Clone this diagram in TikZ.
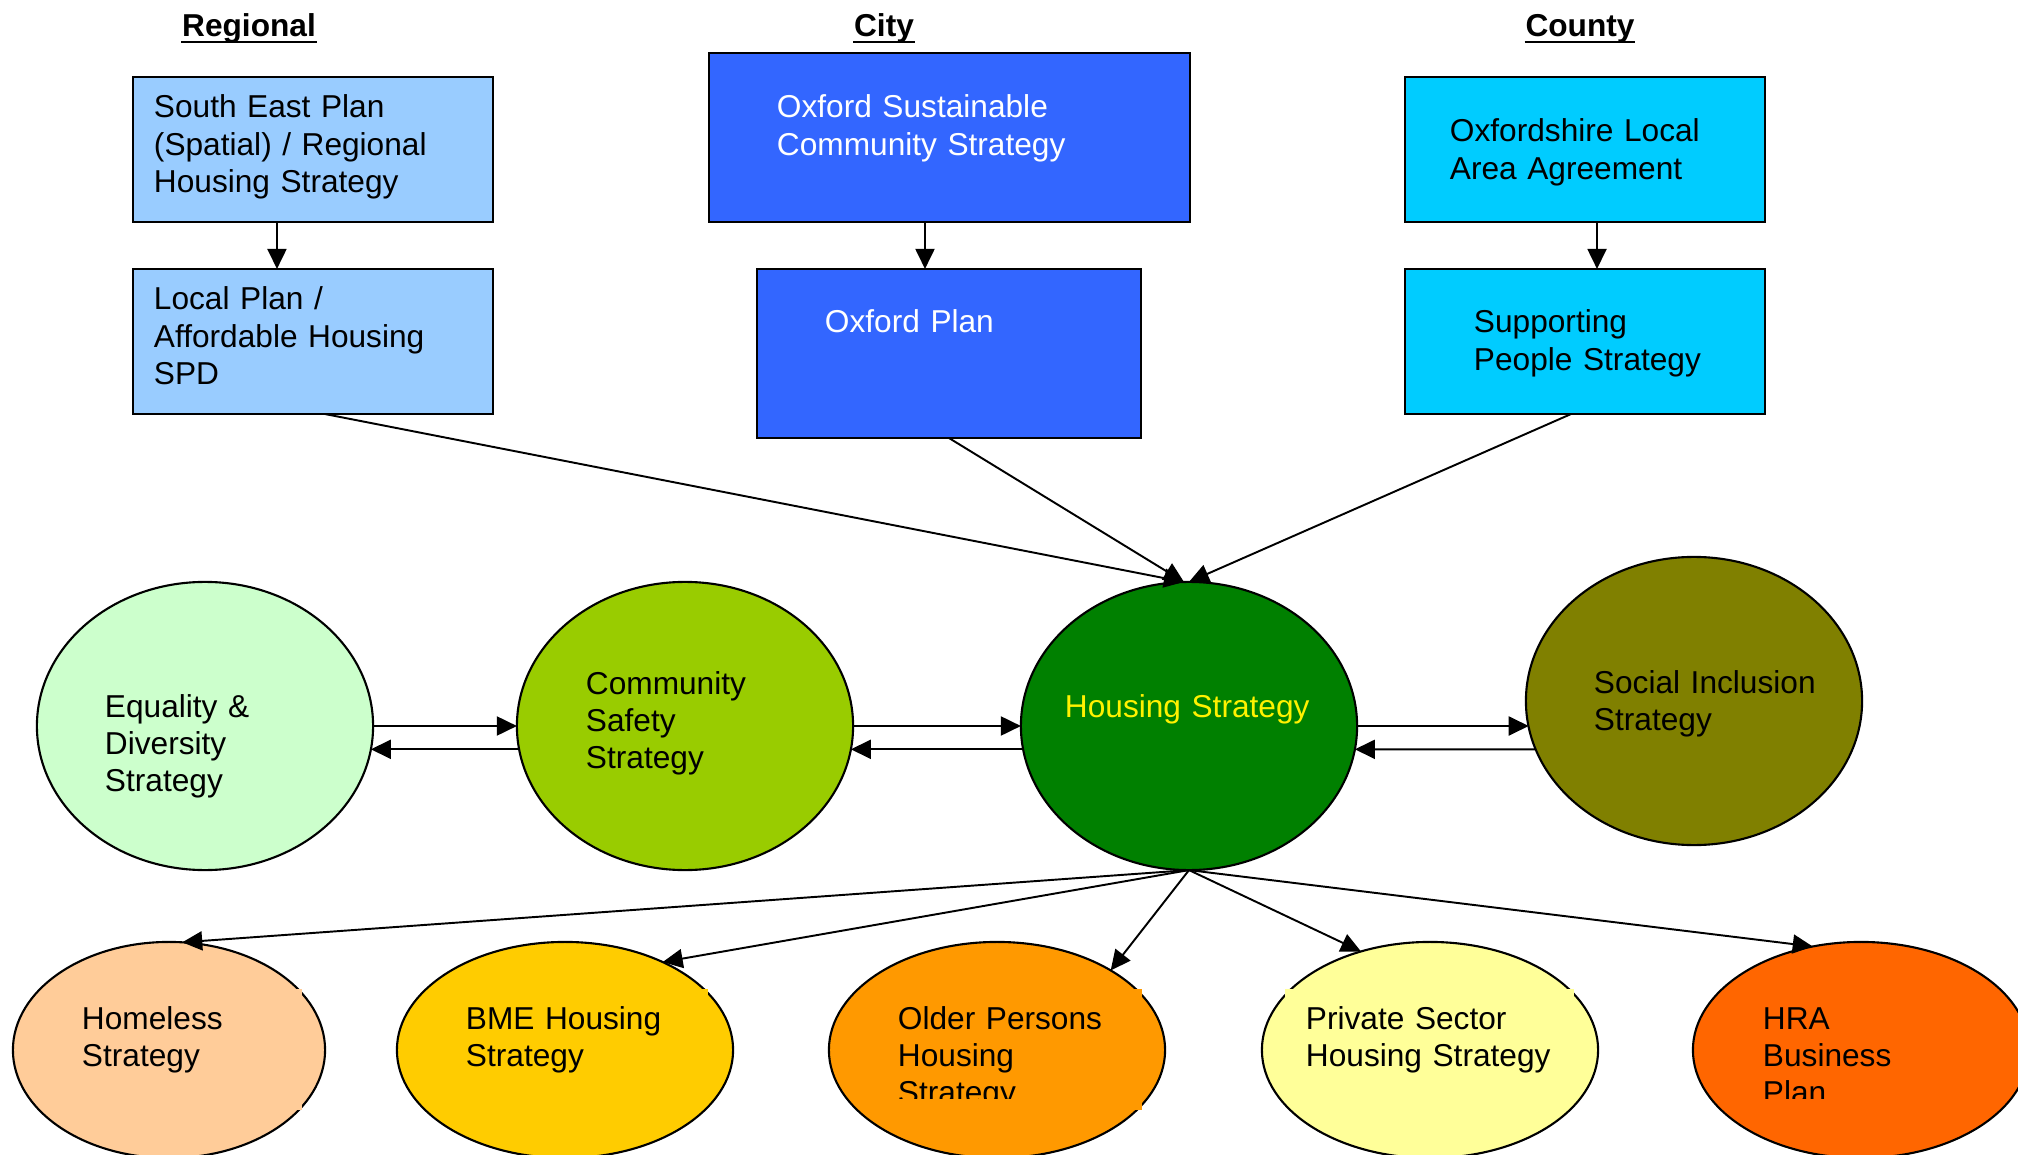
\documentclass[tikz,border=0pt]{standalone}
\usepackage{fontspec}
\setmainfont{Liberation Sans}
\usetikzlibrary{shapes.geometric,arrows.meta}
\definecolor{regblue}{HTML}{99CCFF}
\definecolor{cityblue}{HTML}{3366FF}
\definecolor{countyblue}{HTML}{00CCFF}
\definecolor{eqgreen}{HTML}{CCFFCC}
\definecolor{csgreen}{HTML}{99CC00}
\definecolor{hsgreen}{HTML}{008000}
\definecolor{siolive}{HTML}{808000}
\definecolor{hlpeach}{HTML}{FFCC99}
\definecolor{bmegold}{HTML}{FFCC00}
\definecolor{oporange}{HTML}{FF9900}
\definecolor{pslemon}{HTML}{FFFF99}
\definecolor{hrared}{HTML}{FF6600}
\tikzset{%
  plan/.style={draw,rectangle,line width=0.6pt,inner sep=0pt,outer sep=0pt},%
  strat/.style={draw,ellipse,line width=0.6pt,inner sep=0pt,outer sep=0pt,minimum width=3.36cm},%
  txt/.style={anchor=base west,inner sep=0pt,text width=4cm,align=left,font=\fontsize{9}{10.53}\selectfont},%
  head/.style={anchor=base,inner sep=0pt,font=\fontsize{9}{10.53}\selectfont\bfseries},%
}
\begin{document}
\begin{tikzpicture}[x=0.01cm,y=-0.01cm,>={Triangle[length=0.2cm,width=0.19cm]},line width=0.55pt]
    \useasboundingbox (0,0) rectangle (2018,1155);%
    \foreach \n/\x/\t in {regional/249/Regional, city/884/City, county/1580/County} {%
      \node[head] at (\x,37) (\n) {\t};%
      \draw[line width=0.85pt] ([yshift=-0.05cm]\n.base west) -- ([yshift=-0.05cm]\n.base east);%
    };%
    \node[plan,fill=regblue,minimum width=3.6cm,minimum height=1.45cm] at (313,149.5) (seplan) {};%
    \node[plan,fill=regblue,minimum width=3.6cm,minimum height=1.45cm] at (313,341.5) (localplan) {};%
    \node[plan,fill=cityblue,minimum width=4.81cm,minimum height=1.69cm] at (949.5,137.5) (oscs) {};%
    \node[plan,fill=cityblue,minimum width=3.84cm,minimum height=1.69cm] at (949,353.5) (oxplan) {};%
    \node[plan,fill=countyblue,minimum width=3.6cm,minimum height=1.45cm] at (1585,149.5) (olaa) {};%
    \node[plan,fill=countyblue,minimum width=3.6cm,minimum height=1.45cm] at (1585,341.5) (suppeople) {};%
    \node[txt] at (153,118) (sepT) {South East Plan\\(Spatial) / Regional\\Housing Strategy};%
    \node[txt] at (153,310) (localT) {Local Plan /\\Affordable Housing\\SPD};%
    \node[txt,text=white] at (776,118) (oscsT) {Oxford Sustainable\\Community Strategy};%
    \node[txt,text=white] at (824,333) (oxplanT) {Oxford Plan};%
    \node[txt] at (1449,142) (olaaT) {Oxfordshire Local\\Area Agreement};%
    \node[txt] at (1473,333) (suppT) {Supporting\\People Strategy};%
    \draw[->] ([xshift=-0.36cm]seplan.south) -- ([xshift=-0.36cm]localplan.north);%
    \draw[->] ([xshift=-0.245cm]oscs.south) -- ([xshift=-0.24cm]oxplan.north);%
    \draw[->] ([xshift=0.12cm]olaa.south) -- ([xshift=0.12cm]suppeople.north);%
    \node[strat,fill=eqgreen,minimum height=2.88cm] at (205,726) (equality) {};%
    \node[strat,fill=csgreen,minimum height=2.88cm] at (685,726) (community) {};%
    \node[strat,fill=hsgreen,minimum height=2.88cm] at (1189,726) (housing) {};%
    \node[strat,fill=siolive,minimum height=2.88cm] at (1694,701) (social) {};%
    \node[txt] at (104,717) (equalityT) {Equality \&\\Diversity\\Strategy};%
    \node[txt] at (585,694) (communityT) {Community\\Safety\\Strategy};%
    \node[txt,text=yellow] at (1064,717) (housingT) {Housing Strategy};%
    \node[txt] at (1593,693) (socialT) {Social Inclusion\\Strategy};%
    \draw[->] ([xshift=0.12cm]localplan.south) -- (housing.92);%
    \draw[->] (oxplan.south) -- (housing.92);%
    \draw[->] ([xshift=-0.14cm]suppeople.south) -- (housing.north);%
    \draw[->] (equality.east) -- (community.west);%
    \draw[->] (community.188) -- (equality.-8);%
    \draw[->] (community.east) -- (housing.west);%
    \draw[->] (housing.188) -- (community.-8);%
    \draw[->] (housing.east) -- (housing.east -| social.189);%
    \draw[->] (social.197) -- (housing.-8);%
    \foreach \n/\x/\w/\c in {homeless/169/3.12/hlpeach, bme/565/3.36/bmegold, older/997/3.36/oporange, private/1430/3.36/pslemon, hra/1861/3.36/hrared} {%
      \node[strat,fill=\c,minimum width=\w cm,minimum height=2.16cm] at (\x,1050) (\n) {};%
    };%
    \fill[hlpeach] (75,989) rectangle (302,1110);%
    \fill[bmegold] (460,989) rectangle (708,1100);%
    \fill[oporange] (890,989) rectangle (1142,1110);%
    \fill[pslemon] (1285,989) rectangle (1574,1100);%
    \node[txt] at (81,1029) (homelessT) {Homeless\\Strategy};%
    \node[txt] at (465,1029) (bmeT) {BME Housing\\Strategy};%
    \node[txt] at (1305,1029) (privateT) {Private Sector\\Housing Strategy};%
    \begin{scope}
      \clip (850,980) rectangle (2018,1098);%
      \node[txt] at (897,1029) (olderT) {Older Persons\\Housing\\Strategy};%
      \node[txt] at (1762,1029) (hraT) {HRA\\Business\\Plan};%
    \end{scope}
    \draw[->] (housing.south) -- (homeless.83);%
    \draw[->] (housing.south) -- (bme.42);%
    \draw[->] (housing.south) -- (older.35);%
    \draw[->] (housing.south) -- (private.125);%
    \draw[->] (housing.south) -- (hra.115);%
  \end{tikzpicture}
\end{document}
